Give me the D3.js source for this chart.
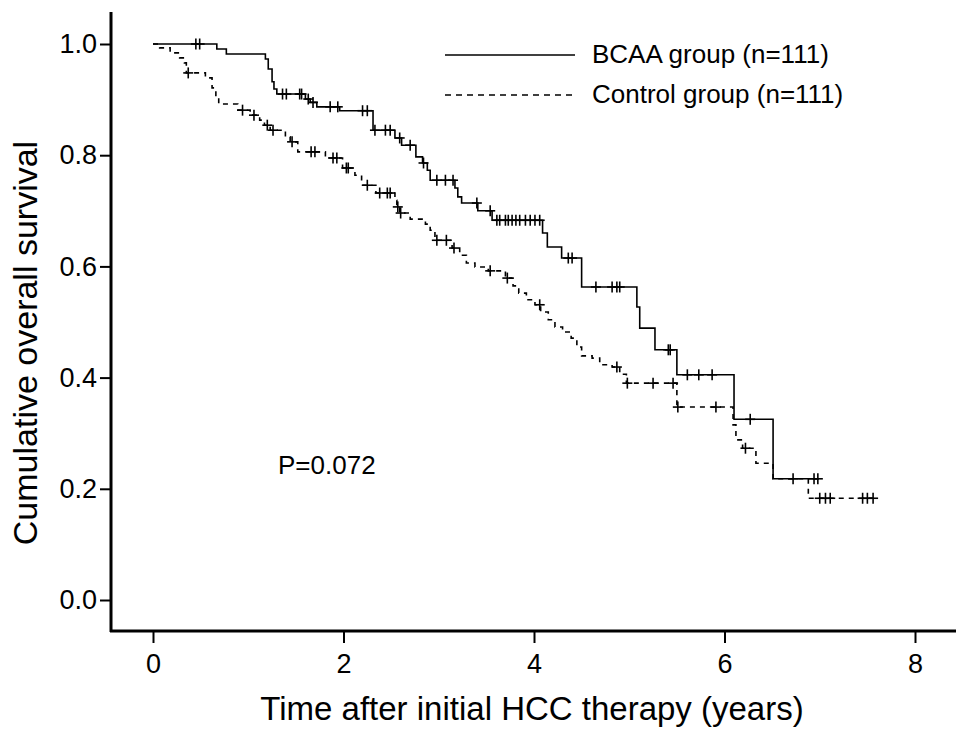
<!DOCTYPE html>
<html>
<head>
<meta charset="utf-8">
<script src="https://cdn.jsdelivr.net/npm/d3@7"></script>
<style>
  body { margin: 0; background: #fff; }
  text { font-family: "Liberation Sans", Arial, sans-serif; fill: #000; }
</style>
</head>
<body>
<div id="chart"></div>
<script>
// KM steps: time (years) and survival after each drop
var bcaaTimes = [0, 0.67, 0.77, 1.18, 1.21, 1.25, 1.27, 1.30, 1.60, 1.65, 1.72, 1.96, 2.31, 2.54, 2.61, 2.76, 2.83, 2.88, 2.91, 3.17, 3.20, 3.24, 3.41, 3.56, 4.09, 4.14, 4.29, 4.50, 5.08, 5.11, 5.27, 5.50, 6.10, 6.51, 6.98];
var bcaaSurv  = [1.0, 0.991, 0.982, 0.973, 0.955, 0.932, 0.919, 0.910, 0.901, 0.895, 0.887, 0.880, 0.845, 0.831, 0.818, 0.797, 0.786, 0.773, 0.755, 0.741, 0.725, 0.714, 0.700, 0.683, 0.660, 0.635, 0.615, 0.563, 0.527, 0.489, 0.450, 0.405, 0.325, 0.218, 0.218];
var bcaaCensor = [0.45, 0.49, 1.36, 1.40, 1.54, 1.56, 1.63, 1.68, 1.86, 1.94, 2.20, 2.25, 2.33, 2.44, 2.49, 2.59, 2.70, 2.84, 2.98, 3.07, 3.15, 3.40, 3.54, 3.61, 3.64, 3.70, 3.73, 3.77, 3.81, 3.85, 3.91, 3.96, 4.01, 4.06, 4.36, 4.40, 4.65, 4.82, 4.87, 4.90, 5.41, 5.43, 5.61, 5.73, 5.87, 6.27, 6.72, 6.94, 6.98];

var ctrlTimes = [0, 0.07, 0.18, 0.28, 0.33, 0.35, 0.55, 0.62, 0.66, 0.69, 0.89, 1.02, 1.12, 1.17, 1.23, 1.39, 1.44, 1.52, 1.81, 1.99, 2.12, 2.19, 2.34, 2.54, 2.56, 2.59, 2.70, 2.86, 2.91, 2.96, 3.14, 3.22, 3.29, 3.38, 3.52, 3.70, 3.78, 3.84, 3.92, 4.01, 4.07, 4.15, 4.22, 4.30, 4.39, 4.45, 4.50, 4.61, 4.69, 4.82, 4.90, 4.97, 5.50, 6.09, 6.12, 6.19, 6.33, 6.51, 6.88, 7.56];
var ctrlSurv  = [1.0, 0.993, 0.984, 0.975, 0.966, 0.948, 0.939, 0.921, 0.903, 0.892, 0.881, 0.872, 0.863, 0.854, 0.845, 0.833, 0.824, 0.806, 0.795, 0.777, 0.764, 0.746, 0.732, 0.719, 0.707, 0.696, 0.685, 0.676, 0.665, 0.647, 0.633, 0.620, 0.606, 0.599, 0.592, 0.579, 0.565, 0.552, 0.540, 0.531, 0.518, 0.504, 0.491, 0.482, 0.471, 0.455, 0.439, 0.435, 0.423, 0.419, 0.406, 0.390, 0.347, 0.315, 0.288, 0.273, 0.246, 0.218, 0.183, 0.183];
var ctrlCensor = [0.37, 0.94, 1.06, 1.20, 1.26, 1.46, 1.66, 1.70, 1.89, 1.93, 2.03, 2.05, 2.25, 2.38, 2.46, 2.49, 2.57, 2.60, 2.98, 3.08, 3.16, 3.54, 3.72, 4.06, 4.87, 4.98, 5.25, 5.46, 5.51, 5.91, 6.22, 7.00, 7.06, 7.11, 7.45, 7.50, 7.56];

var xTicks = [0, 2, 4, 6, 8];
var yTicks = [0, 0.2, 0.4, 0.6, 0.8, 1.0];
var groupNames = ["BCAA group (n=111)", "Control group (n=111)"];
var pText = "P=0.072";

var W = 969, H = 743;

var svg = d3.select("#chart")
  .append("svg")
  .attr("width", W)
  .attr("height", H);

var x = d3.scaleLinear().domain([0, 8]).range([153, 915]);
var y = d3.scaleLinear().domain([0, 1]).range([600, 44]);

// axis lines (extend past the scale range like the original)
svg.append("line")
  .attr("x1", 111).attr("x2", 111)
  .attr("y1", 12).attr("y2", 632)
  .attr("stroke", "#000").attr("stroke-width", 3);
svg.append("line")
  .attr("x1", 110).attr("x2", 956)
  .attr("y1", 631).attr("y2", 631)
  .attr("stroke", "#000").attr("stroke-width", 3);

var xAxis = svg.append("g")
  .attr("transform", "translate(0,631)")
  .call(d3.axisBottom(x).tickValues(xTicks).tickFormat(d3.format("d"))
    .tickSize(12).tickPadding(11));
xAxis.select(".domain").remove();
xAxis.selectAll("line").attr("stroke-width", 2);
xAxis.selectAll("text").style("font-size", "27px").attr("font-family", null);

var yAxis = svg.append("g")
  .attr("transform", "translate(111,0)")
  .call(d3.axisLeft(y).tickValues(yTicks).tickFormat(d3.format(".1f"))
    .tickSize(11).tickPadding(3));
yAxis.select(".domain").remove();
yAxis.selectAll("line").attr("stroke-width", 2);
yAxis.selectAll("text").style("font-size", "27px").attr("font-family", null);

// axis titles
svg.append("text")
  .attr("x", 532).attr("y", 720)
  .attr("text-anchor", "middle")
  .style("font-size", "33px")
  .text("Time after initial HCC therapy (years)");

svg.append("text")
  .attr("transform", "translate(37,343) rotate(-90)")
  .attr("text-anchor", "middle")
  .style("font-size", "34px")
  .text("Cumulative overall survival");

// curves
function stepData(times, surv) {
  return times.map(function(t, i) { return [t, surv[i]]; });
}
function survAt(times, surv, t) {
  var i = d3.bisectRight(times, t) - 1;
  return surv[Math.max(0, i)];
}

var line = d3.line()
  .x(function(d) { return x(d[0]); })
  .y(function(d) { return y(d[1]); })
  .curve(d3.curveStepAfter);

var series = [
  { times: bcaaTimes, surv: bcaaSurv, censor: bcaaCensor, dash: null },
  { times: ctrlTimes, surv: ctrlSurv, censor: ctrlCensor, dash: "5,5" }
];

series.forEach(function(s) {
  svg.append("path")
    .datum(stepData(s.times, s.surv))
    .attr("d", line)
    .attr("fill", "none")
    .attr("stroke", "#000")
    .attr("stroke-width", 1.6)
    .attr("stroke-dasharray", s.dash);

  var marks = svg.append("g").selectAll("g")
    .data(s.censor)
    .enter().append("g")
    .attr("transform", function(t) {
      return "translate(" + x(t) + "," + y(survAt(s.times, s.surv, t)) + ")";
    });
  marks.append("line")
    .attr("x1", 0).attr("x2", 0).attr("y1", -5.5).attr("y2", 5.5)
    .attr("stroke", "#000").attr("stroke-width", 1.6);
  marks.append("line")
    .attr("x1", -5).attr("x2", 5).attr("y1", 0).attr("y2", 0)
    .attr("stroke", "#000").attr("stroke-width", 1.6);
});

// legend
var legend = svg.append("g");
groupNames.forEach(function(name, i) {
  var ly = i === 0 ? 55 : 95;
  legend.append("line")
    .attr("x1", 445).attr("x2", 575)
    .attr("y1", ly).attr("y2", ly)
    .attr("stroke", "#000").attr("stroke-width", 1.6)
    .attr("stroke-dasharray", series[i].dash ? "6,5" : null);
  legend.append("text")
    .attr("x", 592).attr("y", ly + 8)
    .style("font-size", "26px")
    .text(name);
});

svg.append("text")
  .attr("x", 278).attr("y", 474)
  .style("font-size", "26px")
  .text(pText);
</script>
</body>
</html>
